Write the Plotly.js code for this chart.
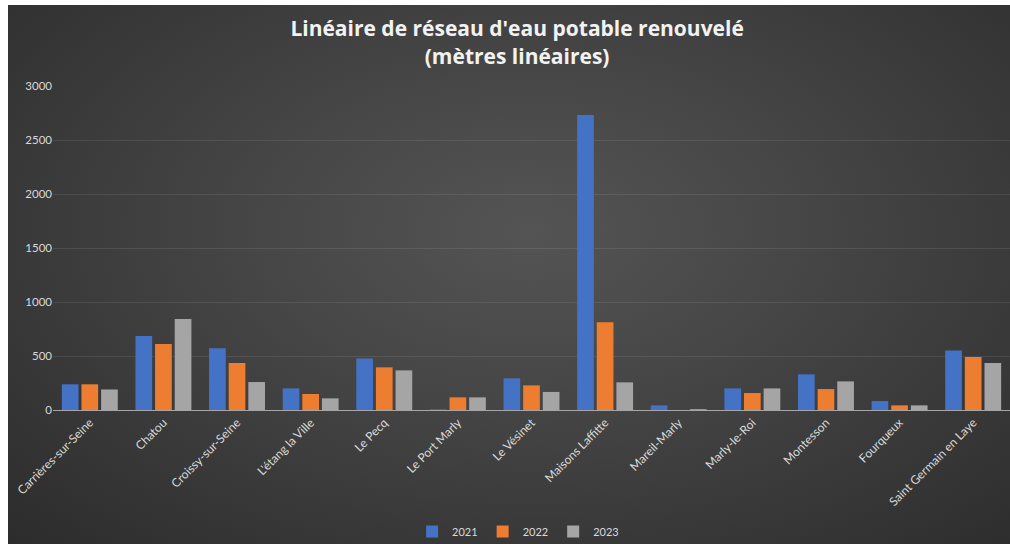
<!DOCTYPE html>
<html>
<head>
<meta charset="utf-8">
<script src="https://cdn.plot.ly/plotly-3.0.1.min.js"></script>
<style>
  html, body { margin:0; padding:0; background:#ffffff; width:1010px; height:544px; overflow:hidden; }
  #bg { position:absolute; left:8px; top:5px; width:1002px; height:539px;
        background: radial-gradient(ellipse at 52% 42%, #545454 0%, #474747 35%, #2c2c2c 100%); }
  #chart { position:absolute; left:0; top:0; width:1010px; height:544px; }
</style>
</head>
<body>
<div id="bg"></div>
<div id="chart"></div>
<script>
const communes = ["Carrières-sur-Seine","Chatou","Croissy-sur-Seine","L'étang la Ville","Le Pecq","Le Port Marly","Le Vésinet","Maisons Laffitte","Mareil-Marly","Marly-le-Roi","Montesson","Fourqueux","Saint Germain en Laye"];
const v2021 = [238, 685, 572, 200, 478, 6, 293, 2731, 43, 200, 330, 83, 552];
const v2022 = [238, 611, 435, 148, 395, 117, 228, 812, 0, 157, 194, 43, 491];
const v2023 = [190, 842, 259, 108, 367, 117, 167, 256, 8, 200, 265, 43, 435];
const years = ["2021","2022","2023"];
const colors = ["#4472C4","#ED7D31","#A5A5A5"];
const yTicks = [0,500,1000,1500,2000,2500,3000];

const series = [v2021, v2022, v2023];
const traces = series.map((vals, i) => ({
  type: "bar",
  name: years[i],
  x: communes,
  y: vals,
  marker: { color: colors[i], line: { width: 0 } },
  hoverinfo: "x+y+name"
}));

const layout = {
  width: 1010, height: 544,
  paper_bgcolor: "rgba(0,0,0,0)",
  plot_bgcolor: "rgba(0,0,0,0)",
  margin: { l: 53, r: 0, t: 86, b: 134, autoexpand: false },
  font: { family: "Lato, 'Open Sans', sans-serif", color: "#d9d9d9", size: 11 },
  title: {
    text: "<b>Linéaire de réseau d'eau potable renouvelé<br>(mètres linéaires)</b>",
    font: { family: "'Open Sans', sans-serif", size: 21, color: "#f2f2f2" },
    x: 0.512, xanchor: "center", y: 0.933, yanchor: "middle"
  },
  barmode: "group",
  bargap: 0.2,
  bargroupgap: 0.15,
  xaxis: {
    type: "category",
    range: [-0.5, 12.5],
    tickangle: -45,
    automargin: false,
    showgrid: false,
    zeroline: false,
    showline: true,
    linecolor: "#a6a6a6",
    linewidth: 1,
    ticks: "",
    tickfont: { size: 12, color: "#d9d9d9" },
    fixedrange: true
  },
  yaxis: {
    range: [0, 3000],
    automargin: false,
    tickvals: yTicks,
    ticktext: yTicks.map(String),
    showgrid: true,
    gridcolor: "rgba(255,255,255,0.09)",
    gridwidth: 1,
    zeroline: false,
    showline: false,
    ticks: "",
    ticklen: 0,
    tickfont: { size: 11.5, color: "#d9d9d9" },
    fixedrange: true
  },
  showlegend: true,
  legend: {
    orientation: "h",
    x: 0.486, xanchor: "center",
    y: -0.375, yanchor: "middle",
    font: { size: 11, color: "#d9d9d9" },
    bgcolor: "rgba(0,0,0,0)",
    itemwidth: 30,
    traceorder: "normal"
  }
};

Plotly.newPlot("chart", traces, layout, { displayModeBar: false, staticPlot: true });
</script>
</body>
</html>
